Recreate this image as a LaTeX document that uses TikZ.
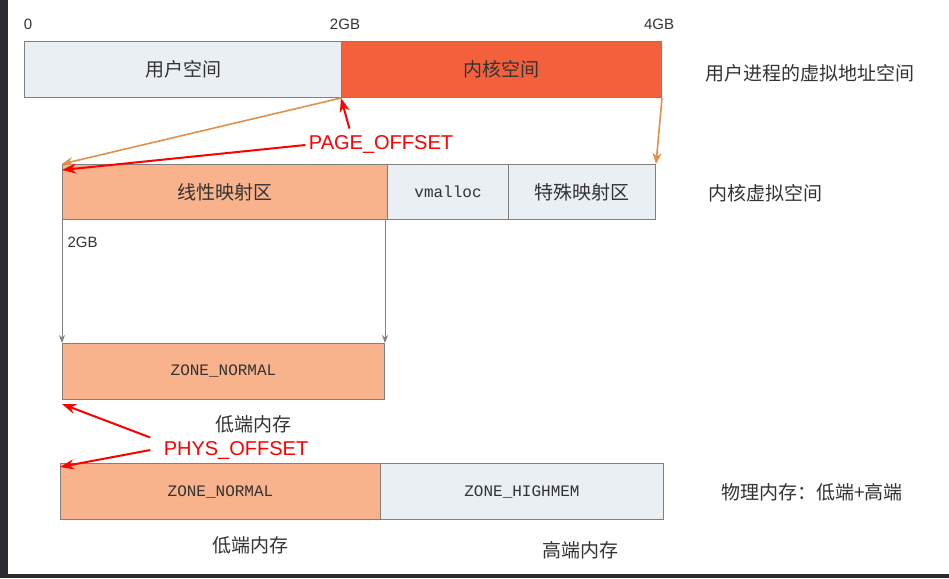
\documentclass[tikz,border=0pt]{standalone}
\usepackage{fontspec}
\setmainfont{Liberation Sans}
\setmonofont{Liberation Mono}
\newfontfamily\cjk{Noto Sans CJK SC}
\usetikzlibrary{arrows.meta}
\definecolor{paleblue}{HTML}{E9EFF2}
\definecolor{kernred}{HTML}{F5603C}
\definecolor{lowpeach}{HTML}{F8B28C}
\definecolor{mapline}{HTML}{E0904A}
\definecolor{edge}{HTML}{808080}
\definecolor{frame}{HTML}{2B2B30}
\tikzset{
  membox/.style={draw=edge,line width=1pt,anchor=north west,inner sep=0pt,font=\cjk\fontsize{19}{19}\selectfont,text=black!80},
  zonebox/.style={membox,font=\ttfamily\fontsize{16}{16}\selectfont},
  sidetxt/.style={font=\cjk\fontsize{19}{19}\selectfont,text=black!80},
  marktxt/.style={font=\fontsize{15}{15}\selectfont,text=black!80},
  offtxt/.style={font=\fontsize{20}{20}\selectfont,text=red},
  maparrow/.style={draw=mapline,line width=1.6pt,-{Stealth[length=11pt,width=9pt]}},
  droparrow/.style={draw=edge,line width=0.8pt,-{Stealth[length=8pt,width=6pt]}},
  redarrow/.style={draw=red,line width=2pt,-{Stealth[length=14pt,width=10pt]}}
}
\begin{document}
\begin{tikzpicture}[x=1pt,y=-1pt]
\useasboundingbox (0,0) rectangle (949,578);
\fill[white] (0,0) rectangle (949,578);
\fill[frame] (0,0) rectangle (8,578);
\fill[frame] (0,574) rectangle (949,578);

% user process address space
\node[membox,fill=paleblue,minimum width=317pt,minimum height=56pt] (user) at (24,41) {用户空间};
\node[membox,fill=kernred,minimum width=320pt,minimum height=56pt] (kern) at (341,41) {内核空间};
\node[marktxt] (m0) at (28,24) {0};
\node[marktxt] (m2) at (345,24) {2GB};
\node[marktxt] (m4) at (659,24) {4GB};
\node[sidetxt] (uspace) at (810,73) {用户进程的虚拟地址空间};

% kernel virtual space
\node[membox,fill=lowpeach,minimum width=325pt,minimum height=55pt] (lin) at (62,164) {线性映射区};
\node[zonebox,fill=paleblue,minimum width=121pt,minimum height=55pt] (vm) at (387,164) {vmalloc};
\node[membox,fill=paleblue,minimum width=147pt,minimum height=55pt] (spec) at (508,164) {特殊映射区};
\node[sidetxt] (kspace) at (765,193) {内核虚拟空间};
\node[marktxt,anchor=west] (l2) at (64,242) {2GB};

% low memory
\node[zonebox,fill=lowpeach,minimum width=322pt,minimum height=56pt] (zn) at (62,343) {ZONE\_NORMAL};
\node[sidetxt] (low1) at (253,424) {低端内存};

% physical memory
\node[zonebox,fill=lowpeach,minimum width=320pt,minimum height=56pt] (pn) at (60,463) {ZONE\_NORMAL};
\node[zonebox,fill=paleblue,minimum width=283pt,minimum height=56pt] (ph) at (380,463) {ZONE\_HIGHMEM};
\node[sidetxt] (pspace) at (812,492) {物理内存：低端+高端};
\node[sidetxt] (low2) at (250,545) {低端内存};
\node[sidetxt] (high) at (580,550) {高端内存};

% offsets
\node[offtxt] (poff) at (381,145) {PAGE\_OFFSET};
\node[offtxt] (phoff) at (236,450) {PHYS\_OFFSET};

% connectors
\draw[maparrow] (kern.south west) -- (lin.north west);
\draw[maparrow] (kern.south east) -- (spec.north east);
\draw[droparrow] (lin.south west) -- (zn.north west);
\draw[droparrow] (lin.south west -| zn.south east) -- (zn.north east);
\draw[redarrow] (poff.north west) ++(44,-4) -- (kern.south west);
\draw[redarrow] (poff.west) -- ([yshift=-6pt]lin.north west);
\draw[redarrow] (phoff.north west) ++(-10,0) -- ([yshift=-4pt]zn.south west);
\draw[redarrow] (phoff.west) ++(-10,0) -- ([yshift=-4pt]pn.north west);
\end{tikzpicture}
\end{document}
